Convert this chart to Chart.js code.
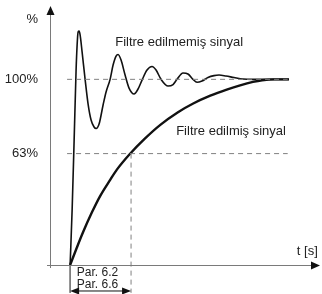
<!DOCTYPE html>
<html>
<head>
<meta charset="utf-8">
<script src="https://cdn.jsdelivr.net/npm/chart.js@4/dist/chart.umd.min.js"></script>
<style>
html,body{margin:0;padding:0;background:#fff;}
#wrap{width:322px;height:294px;position:relative;}
</style>
</head>
<body>
<div id="wrap"><canvas id="c" width="322" height="294"></canvas></div>
<script>
// time in units of the filter time constant (Par. 6.2 / Par. 6.6 = 1.0)
const unfilteredT = [0,0.033,0.066,0.098,0.115,0.131,0.148,0.164,0.197,0.246,0.295,0.344,0.393,0.426,0.475,0.541,0.590,0.656,0.705,0.754,0.787,0.836,0.902,0.967,1.049,1.115,1.180,1.262,1.344,1.410,1.492,1.607,1.689,1.754,1.852,1.934,2.016,2.082,2.164,2.262,2.361,2.443,2.557,2.689,2.836,3.0,3.59];
const unfilteredV = [0,29.6,67.3,105.0,118.5,125.5,126.0,123.9,114.7,100,86.7,78.1,74.3,73.5,75.9,86.2,93.2,100,107.7,112.5,113.4,110.4,102.3,95.3,92.1,94.8,99.6,105.0,106.9,105.0,100,96.4,97.2,100,103.4,102.9,100,98.4,99.1,101.0,102.0,102.3,101.8,101.0,100.2,100,100];
const filteredT = [0,0.10,0.21,0.36,0.49,0.66,0.77,0.98,1.23,1.48,1.77,2.02,2.30,2.57,2.79,3.00,3.15,3.35,3.59];
const filteredV = [0,8.5,17.5,28.5,37.0,46.0,51.5,59.8,68.2,75.5,82.3,87.0,91.2,94.5,96.8,98.6,99.5,100,100];
const yTickValues = [60, 100];
const yTickLabels = ['63%', '100%'];
const parLabels = ['Par. 6.2', 'Par. 6.6'];
const seriesLabels = ['Filtre edilmemiş sinyal', 'Filtre edilmiş sinyal'];
const axisLabelX = 't [s]';
const axisLabelY = '%';
const tau = 1.0;

const FONT = "'Liberation Sans', Arial, sans-serif";
const pts = (xs, ys) => xs.map((x, i) => ({x, y: ys[i]}));

const overlay = {
  id: 'overlay',
  afterDatasetsDraw(chart) {
    const ctx = chart.ctx, xs = chart.scales.x, ys = chart.scales.y;
    const X = v => xs.getPixelForValue(v), Y = v => ys.getPixelForValue(v);
    const x0 = X(xs.min), y0 = Y(0);
    ctx.save();
    // axes
    ctx.strokeStyle = '#7a7a7a'; ctx.lineWidth = 1;
    ctx.beginPath();
    ctx.moveTo(x0 + 0.5, y0 + 3); ctx.lineTo(x0 + 0.5, Y(ys.max) + 6);
    ctx.moveTo(x0 - 3, y0 + 0.5); ctx.lineTo(X(xs.max) - 6, y0 + 0.5);
    ctx.stroke();
    ctx.fillStyle = '#111';
    ctx.beginPath();
    ctx.moveTo(x0 + 0.5, Y(ys.max)); ctx.lineTo(x0 - 3.5, Y(ys.max) + 9); ctx.lineTo(x0 + 4.5, Y(ys.max) + 9); ctx.closePath(); ctx.fill();
    ctx.beginPath();
    ctx.moveTo(X(xs.max), y0 + 0.5); ctx.lineTo(X(xs.max) - 9, y0 - 3.5); ctx.lineTo(X(xs.max) - 9, y0 + 4.5); ctx.closePath(); ctx.fill();
    // double arrow under axis
    const ya = Y(-14);
    const xa = X(0), xb = X(tau);
    ctx.strokeStyle = '#111'; ctx.lineWidth = 1;
    ctx.beginPath(); ctx.moveTo(xa + 4, ya); ctx.lineTo(xb - 4, ya); ctx.stroke();
    ctx.beginPath(); ctx.moveTo(xa, ya); ctx.lineTo(xa + 9, ya - 3.5); ctx.lineTo(xa + 9, ya + 3.5); ctx.closePath(); ctx.fill();
    ctx.beginPath(); ctx.moveTo(xb, ya); ctx.lineTo(xb - 9, ya - 3.5); ctx.lineTo(xb - 9, ya + 3.5); ctx.closePath(); ctx.fill();
    // texts
    ctx.fillStyle = '#222';
    ctx.textBaseline = 'middle';
    ctx.font = '12px ' + FONT;
    ctx.textAlign = 'left';
    ctx.fillText(parLabels[0], X(0.11), Y(-4.3));
    ctx.fillText(parLabels[1], X(0.11), Y(-10.8));
    ctx.font = '13px ' + FONT;
    ctx.fillText(seriesLabels[0], X(0.74), Y(120));
    ctx.fillText(seriesLabels[1], X(1.74), Y(71.8));
    ctx.fillText(axisLabelX, X(3.72), Y(7.2));
    ctx.textAlign = 'right';
    ctx.fillText(axisLabelY, x0 - 12, Y(132.5));
    ctx.restore();
  }
};

new Chart(document.getElementById('c'), {
  type: 'line',
  data: {
    datasets: [
      { label: 'ref100', data: pts([-0.05, 3.57], [100, 100]), borderColor: '#808080', borderWidth: 1, borderDash: [5, 4], pointRadius: 0, tension: 0, clip: false },
      { label: 'ref63', data: pts([-0.05, 3.57], [60, 60]), borderColor: '#808080', borderWidth: 1, borderDash: [5, 4], pointRadius: 0, tension: 0, clip: false },
      { label: 'vtau', data: pts([tau, tau], [60, -15]), borderColor: '#808080', borderWidth: 1, borderDash: [5, 4], pointRadius: 0, tension: 0, clip: false },
      { label: 'v0', data: pts([0, 0], [0, -15]), borderColor: '#777', borderWidth: 1, pointRadius: 0, tension: 0, clip: false },
      { label: seriesLabels[0], data: pts(unfilteredT, unfilteredV), borderColor: '#111', borderWidth: 1.6, pointRadius: 0, cubicInterpolationMode: 'monotone', clip: false },
      { label: seriesLabels[1], data: pts(filteredT, filteredV), borderColor: '#111', borderWidth: 2.4, pointRadius: 0, cubicInterpolationMode: 'monotone', clip: false }
    ]
  },
  options: {
    responsive: false,
    animation: false,
    events: [],
    layout: { padding: { top: 6, right: 2, bottom: 29, left: 0 } },
    plugins: { legend: { display: false }, tooltip: { enabled: false } },
    scales: {
      x: { type: 'linear', min: -0.33, max: 4.1, display: false },
      y: {
        type: 'linear', min: 0, max: 139.5,
        grid: { display: true, drawOnChartArea: false, drawTicks: true, tickLength: 12, color: 'rgba(0,0,0,0)' },
        border: { display: false },
        afterBuildTicks: s => { s.ticks = yTickValues.map(v => ({ value: v })); },
        afterFit: s => { s.width = 50; },
        ticks: {
          padding: 0,
          color: '#222',
          font: { family: FONT, size: 13, lineHeight: 0.9 },
          callback: v => yTickLabels[yTickValues.indexOf(v)]
        }
      }
    }
  },
  plugins: [overlay]
});
</script>
</body>
</html>
